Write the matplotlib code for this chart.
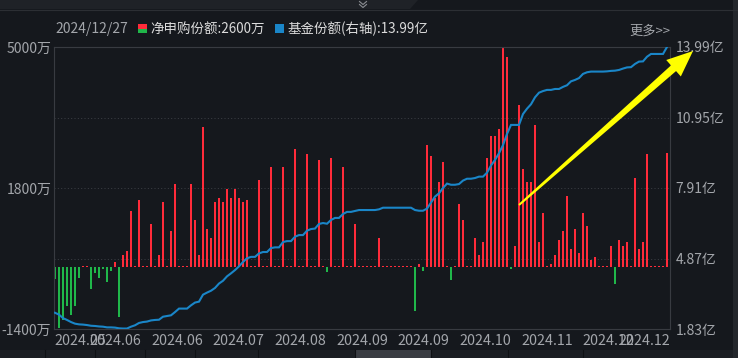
import numpy as np
import matplotlib
matplotlib.use("Agg")
import matplotlib.pyplot as plt
from matplotlib.patches import Polygon, Rectangle
from matplotlib.lines import Line2D

plt.rcParams['font.family'] = ['Noto Sans CJK SC', 'DejaVu Sans']

W, H = 738, 358

date_label = "2024/12/27"
flow_name = "净申购份额"
share_name = "基金份额(右轴)"
flow_last = 2600
share_last = 13.99
more_label = "更多>>"

# daily net subscription, 万份
net_flow = [
    -260, -1370, -1200, -880, -1080, -880, -250, 20, 20, -500,
    -140, -250, -45, -340, -90, 130, -1130, 290, 380, 1280,
    20, 1530, 20, 20, 990, 20, 290, 1480, 20, 830,
    1890, 20, 20, 20, 1890, 1080, 290, 3180, 870, 670,
    1480, 1570, 1480, 1780, 1570, 1780, 1570, 1480, 1530, 40,
    20, 1980, 20, 20, 2270, 20, 20, 2270, 20, 20,
    2680, 20, 20, 2570, 20, 20, 2430, 20, -100, 2480,
    20, 20, 2270, 20, 20, 990, 20, 20, 20, 40,
    20, 670, 20, 20, 40, 20, 20, 20, 20, 20,
    -990, 80, -90, 2770, 2520, 1570, 1940, 2390, 20, -290,
    20, 1440, 1080, 20, 20, 670, 290, 580, 2480, 2970,
    2970, 3130, 5000, 4780, -40, 490, 3680, 2230, 1940, 1940,
    3220, 580, 1240, 20, 80, 290, 630, 830, 1620, 420,
    870, 330, 1240, 940, 170, 240, 20, 20, 20, 490,
    -380, 630, 490, 580, 20, 2030, 420, 580, 2570, 40,
    20, 20, 20, 2600,
]

# fund shares, 亿份
fund_share = [
    2.53, 2.45, 2.30, 2.22, 2.13, 2.06, 2.03, 2.02, 2.00, 1.97,
    1.96, 1.94, 1.93, 1.90, 1.90, 1.89, 1.86, 1.85, 1.85, 1.93,
    1.99, 2.09, 2.13, 2.15, 2.20, 2.22, 2.23, 2.36, 2.39, 2.42,
    2.56, 2.71, 2.71, 2.71, 2.85, 2.97, 3.01, 3.31, 3.40, 3.48,
    3.60, 3.79, 3.91, 4.10, 4.23, 4.37, 4.53, 4.72, 4.88, 4.94,
    4.94, 5.09, 5.15, 5.15, 5.32, 5.35, 5.35, 5.58, 5.62, 5.62,
    5.81, 5.88, 5.88, 6.07, 6.14, 6.16, 6.36, 6.40, 6.37, 6.53,
    6.62, 6.62, 6.79, 6.88, 6.88, 6.92, 6.96, 6.96, 6.96, 6.96,
    6.96, 6.99, 7.06, 7.06, 7.06, 7.06, 7.06, 7.06, 7.06, 7.06,
    6.96, 6.93, 6.93, 7.02, 7.28, 7.54, 7.68, 7.91, 8.10, 8.05,
    8.05, 8.08, 8.23, 8.31, 8.31, 8.34, 8.40, 8.40, 8.57, 8.88,
    9.12, 9.41, 9.76, 10.24, 10.63, 10.63, 10.63, 11.10, 11.33, 11.52,
    11.82, 12.02, 12.09, 12.14, 12.14, 12.18, 12.18, 12.27, 12.34, 12.51,
    12.57, 12.65, 12.83, 12.90, 12.93, 12.93, 12.93, 12.93, 12.94, 12.96,
    12.97, 13.00, 13.06, 13.11, 13.12, 13.26, 13.36, 13.37, 13.57, 13.69,
    13.69, 13.69, 13.69, 13.99,
]

left_ticks = [-1400, 1800, 5000]
right_ticks = [1.83, 4.87, 7.91, 10.95, 13.99]
x_labels = ["2024.05", "2024.06", "2024.06", "2024.07", "2024.08", "2024.09",
            "2024.09", "2024.10", "2024.11", "2024.12", "2024.12"]

BG = "#15181d"
RED = "#ff2b3a"
GREEN = "#20b74a"
BLUE = "#1a86c8"
TXT = "#a3a6ab"
EDGE = "#383b41"


def fx(x):
    return x / W


def fy(y):
    return 1 - y / H


fig = plt.figure(figsize=(W / 100, H / 100), dpi=100, facecolor=BG)

# top strip and bottom tab bar
fig.patches.append(Polygon([(fx(0), fy(0)), (fx(418), fy(0)), (fx(410), fy(9)), (fx(0), fy(9))],
                           closed=True, transform=fig.transFigure, facecolor="#1f2227", edgecolor="none"))
fig.add_artist(Line2D([0, 1], [fy(9.5), fy(9.5)], color="#2c2f34", lw=0.8, transform=fig.transFigure))
for yy in (1.5, 4.5):
    fig.add_artist(Line2D([fx(359.5), fx(363), fx(366.5)], [fy(yy), fy(yy + 3), fy(yy)],
                          color="#8a8d92", lw=0.8, transform=fig.transFigure))
fig.patches.append(Rectangle((0, 0), 1, fy(350), transform=fig.transFigure,
                             facecolor="#1c1f24", edgecolor="none"))
fig.patches.append(Rectangle((fx(355), 0), fx(431) - fx(355), fy(350), transform=fig.transFigure,
                             facecolor="#3a3d43", edgecolor="none"))
for sx in (45, 95, 145, 195, 258, 355, 431, 508, 583):
    fig.add_artist(Line2D([fx(sx), fx(sx)], [0, fy(350)], color="#0f1114", lw=0.8,
                          transform=fig.transFigure))
fig.patches.append(Rectangle((fx(733), 0), fx(5), 1, transform=fig.transFigure,
                             facecolor="#24272c", edgecolor="none"))

ax = fig.add_axes([fx(54), fy(329), fx(616), (329 - 47) / H])
ax.set_facecolor(BG)
ax2 = ax.twinx()

n = len(net_flow)
idx = np.arange(n)
flows = np.array(net_flow)
colors = [RED if v >= 0 else GREEN for v in flows]

ax.set_xlim(-0.25, n - 0.25)
ax.set_ylim(left_ticks[0], left_ticks[-1])
ax2.set_ylim(right_ticks[0], right_ticks[-1])


def right_to_left(v):
    lo, hi = ax.get_ylim()
    rlo, rhi = ax2.get_ylim()
    return lo + (v - rlo) / (rhi - rlo) * (hi - lo)


for v in right_ticks[1:-1]:
    ax.axhline(right_to_left(v), color="#3a3d43", lw=0.75, ls=(0, (1, 2.2)), zorder=1)

ax.bar(idx, flows, width=0.5, color=colors, zorder=2, linewidth=0)
ax2.plot(idx, fund_share, color=BLUE, lw=1.5, zorder=3, solid_joinstyle="miter")

ax.set_yticks(left_ticks)
ax.set_yticklabels([f"{v}万" for v in left_ticks])
ax2.set_yticks(right_ticks)
ax2.set_yticklabels([f"{v:.2f}亿" for v in right_ticks])
ax.tick_params(axis="y", length=0, pad=2, labelsize=10, labelcolor=TXT)
ax2.tick_params(axis="y", length=0, pad=4, labelsize=10, labelcolor=TXT)
ax.set_xticks([])
for a in (ax, ax2):
    for s in a.spines.values():
        s.set_color(EDGE)
        s.set_linewidth(0.8)

# month labels sit on ten equal slots, first and last pinned to the edges
nl = len(x_labels)
for k, lab in enumerate(x_labels):
    if k == 0:
        ha, pos = "left", 0.0
    elif k == nl - 1:
        ha, pos = "right", 1.0
    else:
        ha, pos = "center", k / 10
    ax.text(pos, -12 / 282, lab, transform=ax.transAxes, ha=ha, va="center",
            fontsize=10.3, color=TXT)

# header
fig.text(fx(55), fy(29), date_label, ha="left", va="center", fontsize=10, color=TXT)
fig.patches.append(Rectangle((fx(138), fy(33)), fx(9), 4.5 / H, transform=fig.transFigure,
                             facecolor=GREEN, edgecolor="none"))
fig.patches.append(Rectangle((fx(138), fy(28.5)), fx(9), 4.5 / H, transform=fig.transFigure,
                             facecolor=RED, edgecolor="none"))
fig.text(fx(150), fy(29), f"{flow_name}:{flow_last}万", ha="left", va="center",
         fontsize=9.7, color="#dcdcdc")
fig.patches.append(Rectangle((fx(275), fy(33)), fx(9), 9 / H, transform=fig.transFigure,
                             facecolor=BLUE, edgecolor="none"))
fig.text(fx(288), fy(29), f"{share_name}:{share_last}亿", ha="left", va="center",
         fontsize=9.7, color="#dcdcdc")
fig.text(fx(670), fy(31), more_label, ha="right", va="center", fontsize=9.5, color=TXT)

# yellow arrow
tail = np.array([519.0, 205.0])
tip = np.array([693.0, 51.0])
u = (tip - tail) / np.linalg.norm(tip - tail)
nrm = np.array([-u[1], u[0]])
base = tip - u * 26
pts = [tail + nrm * 1.0, base + nrm * 3.8, base + nrm * 11, tip,
       base - nrm * 11, base - nrm * 3.8, tail - nrm * 1.0]
fig.patches.append(Polygon([(fx(p[0]), fy(p[1])) for p in pts], closed=True,
                           transform=fig.transFigure, facecolor="#ffff00", edgecolor="none",
                           zorder=10))

fig.savefig("out.png", dpi=100, facecolor=BG)
